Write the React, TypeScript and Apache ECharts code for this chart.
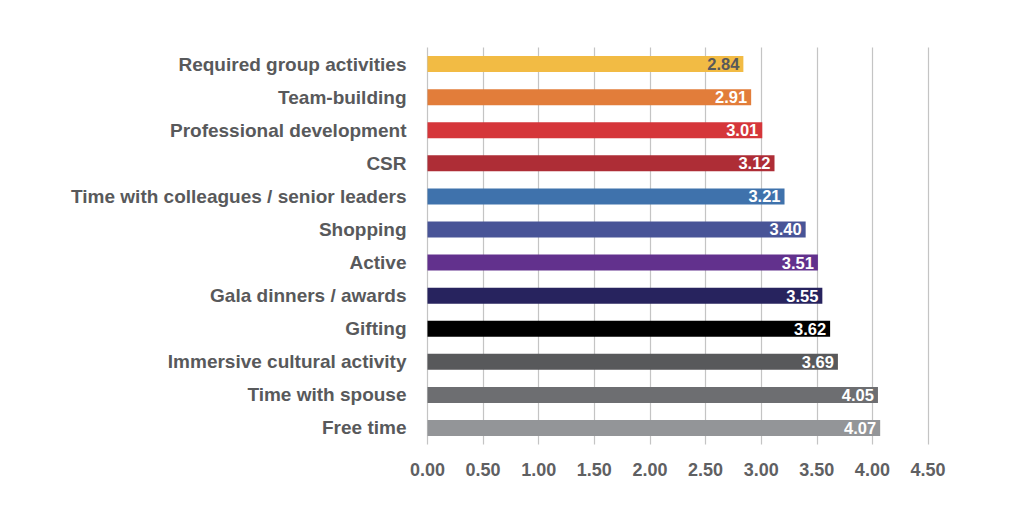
import React, { useEffect, useRef } from "react";
import * as echarts from "echarts";

const categories = [
  "Required group activities",
  "Team-building",
  "Professional development",
  "CSR",
  "Time with colleagues / senior leaders",
  "Shopping",
  "Active",
  "Gala dinners / awards",
  "Gifting",
  "Immersive cultural activity",
  "Time with spouse",
  "Free time",
];
const values = [2.84, 2.91, 3.01, 3.12, 3.21, 3.4, 3.51, 3.55, 3.62, 3.69, 4.05, 4.07];
const barColors = [
  "#F2BB44",
  "#E27D3A",
  "#D5363A",
  "#AE2D36",
  "#3F72AC",
  "#485497",
  "#62318D",
  "#27235E",
  "#000000",
  "#58595B",
  "#6D6E71",
  "#939598",
];
const labelColors = [
  "#58595B", "#ffffff", "#ffffff", "#ffffff", "#ffffff", "#ffffff",
  "#ffffff", "#ffffff", "#ffffff", "#ffffff", "#ffffff", "#ffffff",
];

const FONT = "'Liberation Sans', Arial, Helvetica, sans-serif";

export default function App() {
  const ref = useRef<HTMLDivElement>(null);
  useEffect(() => {
    if (!ref.current) return;
    const chart = echarts.init(ref.current, null, { renderer: "svg" });
    chart.setOption({
      animation: false,
      backgroundColor: "#ffffff",
      grid: { left: 427.5, right: 96, top: 47.5, height: 397, containLabel: false },
      xAxis: {
        type: "value",
        min: 0,
        max: 4.5,
        interval: 0.5,
        axisLine: { show: false },
        axisTick: { show: false },
        splitLine: { show: true, lineStyle: { color: "#c4c4c4", width: 1.2 } },
        axisLabel: {
          formatter: (v: number) => v.toFixed(2),
          color: "#5f6062",
          fontFamily: FONT,
          fontWeight: "bold",
          fontSize: 18,
          margin: 16,
        },
      },
      yAxis: {
        type: "category",
        data: categories,
        inverse: true,
        axisLine: { show: false },
        axisTick: { show: false },
        axisLabel: {
          color: "#58595B",
          fontFamily: FONT,
          fontWeight: "bold",
          fontSize: 19,
          margin: 21,
        },
      },
      series: [
        {
          type: "bar",
          barWidth: 16,
          data: values.map((v, i) => ({
            value: v,
            itemStyle: { color: barColors[i] },
            label: { color: labelColors[i] },
          })),
          label: {
            show: true,
            position: "insideRight",
            distance: 4,
            formatter: (p: any) => Number(p.value).toFixed(2),
            fontFamily: FONT,
            fontWeight: "bold",
            fontSize: 16.5,
          },
        },
      ],
    });
    return () => chart.dispose();
  }, []);
  return (
    <div
      ref={ref}
      style={{ position: "absolute", left: 0, top: 0, width: 1024, height: 513 }}
    />
  );
}
